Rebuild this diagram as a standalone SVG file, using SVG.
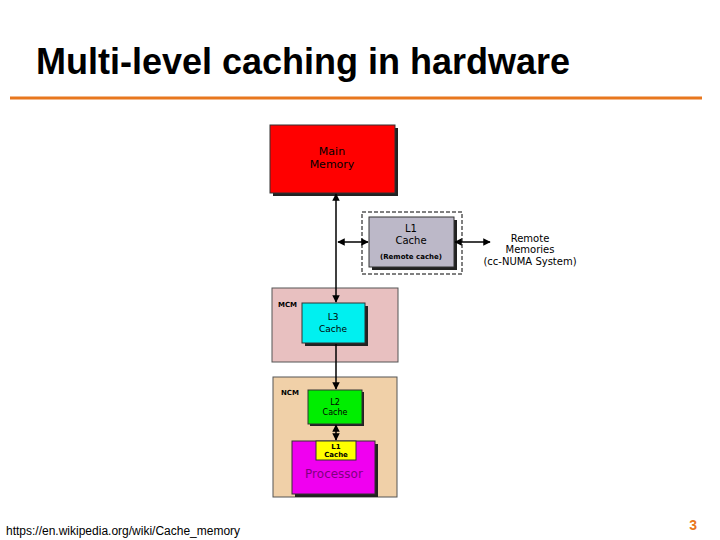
<svg xmlns="http://www.w3.org/2000/svg" width="720" height="540" viewBox="0 0 720 540">
<defs>
<marker id="ah" viewBox="0 0 10 10" refX="9" refY="5" markerWidth="5" markerHeight="5" orient="auto-start-reverse"><path d="M0,0L10,5L0,10z" fill="#000"/></marker>
<style>
.t{font-family:"DejaVu Sans",sans-serif;text-anchor:middle;fill:#000}
.b{stroke:#333;stroke-width:1}
.sh{fill:#222}
</style>
</defs>
<rect width="720" height="540" fill="#fff"/>
<text x="36" y="74" font-family="Liberation Sans,sans-serif" font-weight="bold" font-size="36">Multi-level caching in hardware</text>
<line x1="10" y1="98" x2="702" y2="98" stroke="#e8771e" stroke-width="3"/>
<g id="main-memory"><rect x="273" y="128" width="125" height="68" class="sh"/><rect x="270" y="125" width="125" height="68" fill="#f00" class="b"/><text class="t" x="332" y="155" font-size="11">Main</text><text class="t" x="332" y="168" font-size="11">Memory</text></g>
<g id="remote-cache"><rect x="362" y="212" width="100" height="62" fill="none" stroke="#000" stroke-dasharray="4,2"/><rect x="372" y="220" width="85" height="50" class="sh"/><rect x="369" y="217" width="85" height="50" fill="#bcb8c8" class="b"/><text class="t" x="411" y="232" font-size="10">L1</text><text class="t" x="411" y="244" font-size="10">Cache</text><text class="t" x="411" y="259" font-size="7" font-weight="bold">(Remote cache)</text></g>
<g id="remote-mem"><text class="t" x="530" y="242" font-size="10">Remote</text><text class="t" x="530" y="253" font-size="10">Memories</text><text class="t" x="530" y="265" font-size="10">(cc-NUMA System)</text></g>
<g id="mcm"><rect x="272" y="288" width="126" height="74" fill="#e8c0c0" stroke="#555"/><text x="278" y="307" font-family="DejaVu Sans,sans-serif" font-size="7" font-weight="bold">MCM</text><rect x="305" y="306" width="63" height="40" class="sh"/><rect x="302" y="303" width="63" height="40" fill="#00f0f0" class="b"/><text class="t" x="333" y="320" font-size="9">L3</text><text class="t" x="333" y="332" font-size="9">Cache</text></g>
<g id="ncm"><rect x="273" y="377" width="124" height="120" fill="#f0d0a8" stroke="#555"/><text x="281" y="395" font-family="DejaVu Sans,sans-serif" font-size="7" font-weight="bold">NCM</text><rect x="310" y="392" width="54" height="34" class="sh"/><rect x="308" y="390" width="54" height="34" fill="#00ee00" class="b"/><text class="t" x="335" y="405" font-size="8">L2</text><text class="t" x="335" y="415" font-size="8">Cache</text></g>
<g id="processor"><rect x="295" y="444" width="83" height="53" class="sh"/><rect x="292" y="441" width="83" height="53" fill="#f000f0" class="b"/><rect x="316" y="441" width="40" height="19" fill="#ffff00" class="b"/><text class="t" x="336" y="449" font-size="7" font-weight="bold">L1</text><text class="t" x="336" y="457" font-size="7" font-weight="bold">Cache</text><text class="t" x="334" y="478" font-size="12" fill="#800080" style="fill:#800080">Processor</text></g>
<g id="connectors" stroke="#000" stroke-width="1.5" fill="none">
<line x1="336" y1="194" x2="336" y2="302" marker-start="url(#ah)" marker-end="url(#ah)"/>
<line x1="336" y1="344" x2="336" y2="389" marker-end="url(#ah)"/>
<line x1="336" y1="425" x2="336" y2="440" marker-start="url(#ah)" marker-end="url(#ah)"/>
<line x1="338" y1="242" x2="368" y2="242" marker-start="url(#ah)" marker-end="url(#ah)"/>
<line x1="455" y1="242" x2="490" y2="242" marker-start="url(#ah)" marker-end="url(#ah)"/>
</g>
<text x="6" y="535" font-family="Liberation Sans,sans-serif" font-size="12">https://en.wikipedia.org/wiki/Cache_memory</text>
<text x="697" y="530" font-family="Liberation Sans,sans-serif" font-size="14" font-weight="bold" fill="#e8771e" text-anchor="end">3</text>
</svg>
